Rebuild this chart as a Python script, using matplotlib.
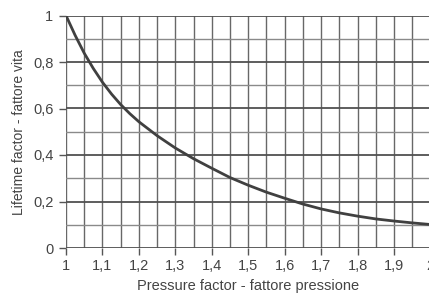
import matplotlib
matplotlib.use("Agg")
import matplotlib.pyplot as plt
import numpy as np

pressure = [1.0, 1.025, 1.05, 1.075, 1.1, 1.125, 1.15, 1.175, 1.2, 1.25, 1.3, 1.35, 1.4, 1.45, 1.5,
            1.55, 1.6, 1.65, 1.7, 1.75, 1.8, 1.85, 1.9, 1.95, 2.0]
lifetime = [1.0, 0.915, 0.838, 0.772, 0.713, 0.662, 0.617, 0.578, 0.543, 0.483, 0.430, 0.384, 0.343,
            0.303, 0.270, 0.240, 0.214, 0.189, 0.168, 0.151, 0.137, 0.125, 0.116, 0.108, 0.101]

xticks = [1.0, 1.1, 1.2, 1.3, 1.4, 1.5, 1.6, 1.7, 1.8, 1.9, 2.0]
xticklabels = ["1", "1,1", "1,2", "1,3", "1,4", "1,5", "1,6", "1,7", "1,8", "1,9", "2"]
yticks = [0, 0.2, 0.4, 0.6, 0.8, 1.0]
yticklabels = ["0", "0,2", "0,4", "0,6", "0,8", "1"]

plt.rcParams['font.family'] = ['Liberation Sans', 'DejaVu Sans']

fig = plt.figure(figsize=(4.29, 2.95), dpi=100)
ax = fig.add_axes([66/429, 1-248/295, (430.5-66)/429, (248-15.5)/295])

ax.set_xlim(1, 2)
ax.set_ylim(0, 1)

# grid
for xv in np.arange(1.0, 2.001, 0.05):
    ax.axvline(xv, color='#686868', lw=1.0, zorder=1)
for i, yv in enumerate(np.arange(0.0, 1.001, 0.1)):
    if i % 2 == 0:
        ax.axhline(yv, color='#505050', lw=1.3, zorder=1)
    else:
        ax.axhline(yv, color='#8a8a8a', lw=1.0, zorder=1)

ax.plot(pressure, lifetime, color='#404040', lw=2.0, zorder=3,
        solid_joinstyle='round')

for s in ax.spines.values():
    s.set_visible(False)

ax.set_xticks(xticks)
ax.set_xticklabels(xticklabels)
ax.set_yticks(yticks)
ax.set_yticklabels(yticklabels)
ax.tick_params(axis='both', colors='#555555', labelcolor='#444444',
               labelsize=10.5, length=5, width=1.0, direction='out')
ax.tick_params(axis='x', pad=3)
ax.tick_params(axis='y', pad=4)

ax.set_xlabel("Pressure factor - fattore pressione", fontsize=10.5, color='#444444', labelpad=4)
ax.set_ylabel("Lifetime factor - fattore vita", fontsize=10, color='#444444', labelpad=5)

fig.savefig("out.png", dpi=100)
